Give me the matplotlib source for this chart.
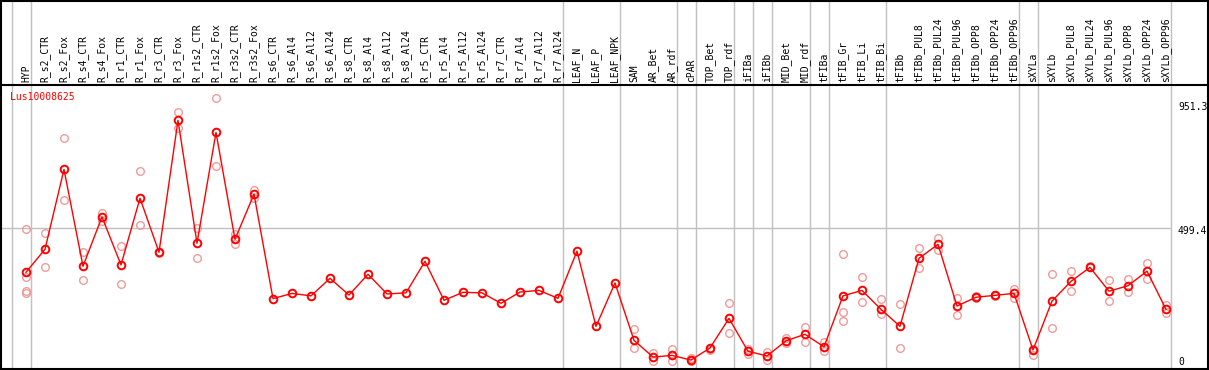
"""
Expression profile of Lus10008625 across tissues / treatments
"""

import matplotlib
matplotlib.use('Agg')
import matplotlib.pyplot as plt
from matplotlib.lines import Line2D

GENE = 'Lus10008625'

categories = [
    'HYP', 'R_s2_CTR', 'R_s2_Fox', 'R_s4_CTR', 'R_s4_Fox', 'R_r1_CTR', 'R_r1_Fox',
    'R_r3_CTR', 'R_r3_Fox', 'R_r1s2_CTR', 'R_r1s2_Fox', 'R_r3s2_CTR', 'R_r3s2_Fox',
    'R_s6_CTR', 'R_s6_Al4', 'R_s6_Al12', 'R_s6_Al24', 'R_s8_CTR', 'R_s8_Al4',
    'R_s8_Al12', 'R_s8_Al24', 'R_r5_CTR', 'R_r5_Al4', 'R_r5_Al12', 'R_r5_Al24',
    'R_r7_CTR', 'R_r7_Al4', 'R_r7_Al12', 'R_r7_Al24', 'LEAF_N', 'LEAF_P', 'LEAF_NPK',
    'SAM', 'AR_Bet', 'AR_rdf', 'cPAR', 'TOP_Bet', 'TOP_rdf', 'iFIBa', 'iFIBb',
    'MID_Bet', 'MID_rdf', 'tFIBa', 'tFIB_Gr', 'tFIB_Li', 'tFIB_Bi', 'tFIBb',
    'tFIBb_PUL8', 'tFIBb_PUL24', 'tFIBb_PUL96', 'tFIBb_OPP8', 'tFIBb_OPP24',
    'tFIBb_OPP96', 'sXYLa', 'sXYLb', 'sXYLb_PUL8', 'sXYLb_PUL24', 'sXYLb_PUL96',
    'sXYLb_OPP8', 'sXYLb_OPP24', 'sXYLb_OPP96',
]

mean_values = [
    338, 422, 713, 360, 540, 365, 608, 411, 892, 444, 848, 458, 623,
    242, 261, 252, 316, 255, 331, 259, 263, 378, 236, 265, 263,
    225, 266, 272, 243, 415, 141, 299,
    90, 29, 35, 18, 62, 170, 50, 33, 88, 112, 66,
    252, 272, 203, 141, 389, 440, 215, 247, 254, 261,
    55, 233, 305, 356, 269, 289, 342, 203,
]

# individual replicates (only where they show apart from the mean)
replicates = [
    [495, 322, 270, 261], [482, 357], [826, 602], [411, 309], [555, 526],
    [433, 294], [707, 509], [408], [921, 865], [501, 389], [972, 724],
    [476, 440], [639, 608],
    [], [], [], [], [], [], [], [], [], [], [], [], [], [], [], [], [], [], [],
    [131, 62], [43, 16], [58, 14], [27, 15], [60, 55], [226, 117], [57, 40],
    [49, 17], [97, 79], [139, 84], [84, 51],
    [405, 193, 159], [321, 230], [240, 185], [222, 62],
    [425, 353], [463, 418], [243, 181], [250, 244], [256, 252], [277, 244],
    [60, 37], [331, 134], [342, 269], [362], [309, 232], [314, 267],
    [372, 312], [219, 191],
]

# group separators sit just right of these category indices
group_ends = [-1, 0, 28, 31, 34, 35, 37, 38, 39, 41, 42, 45, 52, 53, 60]

y_ticks = [0, 499.4, 951.3]

W, H = 1209, 370
X0, DX = 26, 19          # pixel of first category, pixel step
Y0, KY = 365, 0.2743     # pixel of value 0, pixels per unit


def main():
    fig = plt.figure(figsize=(W / 100, H / 100), dpi=100)
    ax = fig.add_axes([0, 0, 1, 1])
    ax.set_xlim(-X0 / DX, (W - X0) / DX)
    ax.set_ylim(-(H - Y0) / KY, Y0 / KY)
    ax.axis('off')

    mono = 'DejaVu Sans Mono'
    xt = ax.get_xaxis_transform()
    xs = list(range(len(categories)))

    # grid
    for g in group_ends:
        ax.axvline(g + 0.24, color='#c0c0c0', lw=1, zorder=0)
    ax.plot([-1.3, 60.2], [499.4, 499.4], color='#c0c0c0', lw=1, zorder=0)

    # column labels
    for i, name in enumerate(categories):
        ax.text(i, 1 - 82 / H, name, transform=xt, rotation=90, ha='center',
                va='bottom', fontsize=7, family=mono)

    # replicates then means
    for i, reps in enumerate(replicates):
        for r in reps:
            ax.plot(i, r, 'o', ms=5.5, mfc='none', mec='#f09a9a', mew=1, zorder=2)
    ax.plot(xs, mean_values, '-', color='red', lw=1, zorder=3)
    ax.plot(xs, mean_values, 'o', ms=5.5, mfc='none', mec='red', mew=1.4, zorder=4)

    # y tick labels on the right, nudged a little below their value
    for v in y_ticks:
        y_pix = min(Y0 - v * KY + 3, 362)
        ax.text(1178 / W, 1 - y_pix / H, f'{v:g}', transform=ax.transAxes,
                fontsize=7, family=mono, ha='left', va='center')

    ax.text(10 / W, 1 - 97 / H, GENE, transform=ax.transAxes, color='red',
            fontsize=7, family=mono, va='center', ha='left')

    # frame lines
    for line in [
        Line2D([0, 1], [1 - 85 / H] * 2, color='black', lw=1.5),
        Line2D([0, 1], [1 - 0.5 / H] * 2, color='black', lw=1.5),
        Line2D([0, 1], [1.5 / H] * 2, color='black', lw=1.5),
        Line2D([1 / W] * 2, [0, 1], color='black', lw=1.5),
        Line2D([1 - 1.5 / W] * 2, [0, 1], color='black', lw=1.5),
    ]:
        line.set_transform(ax.transAxes)
        ax.add_line(line)

    fig.savefig('out.png', dpi=100)
    print("Saved: out.png")


if __name__ == "__main__":
    main()
